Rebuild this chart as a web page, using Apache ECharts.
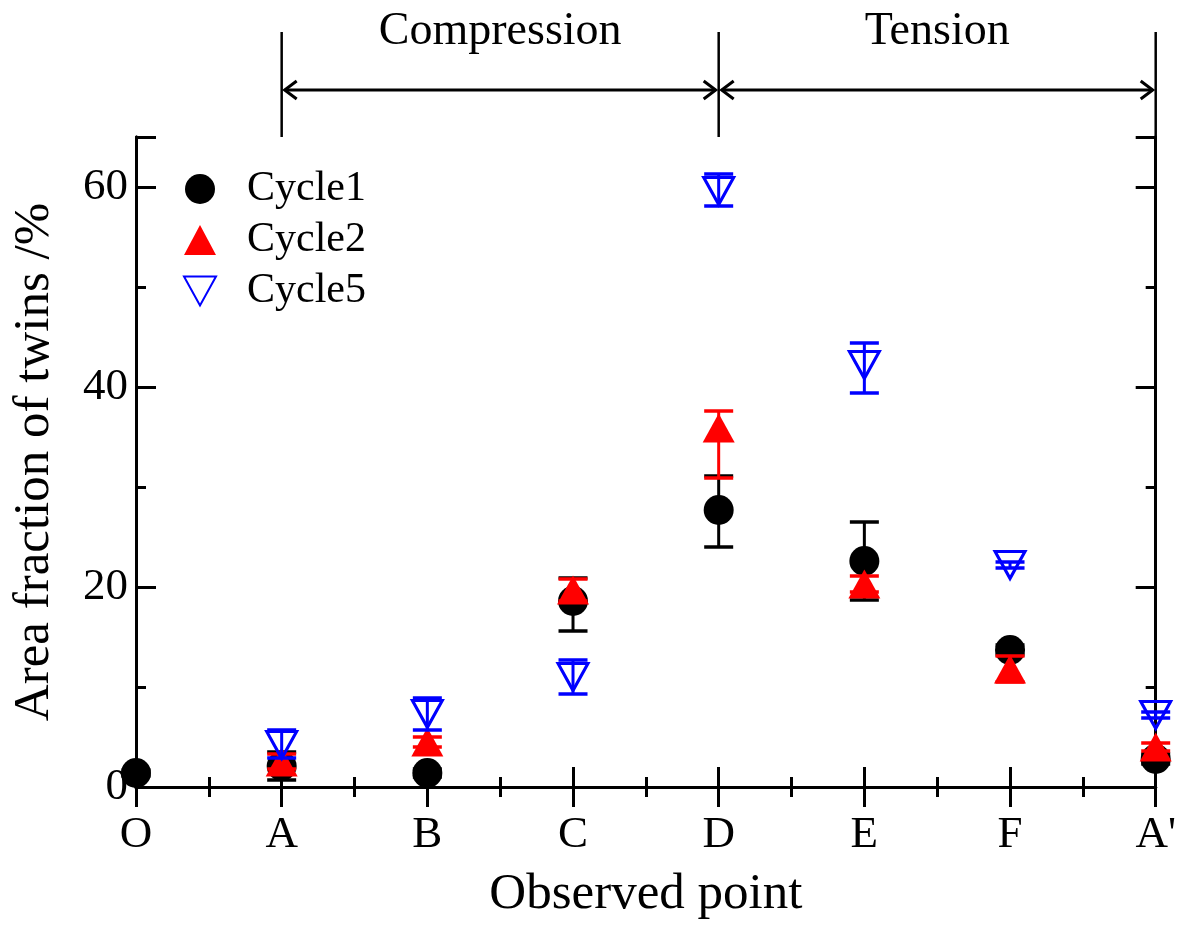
<!DOCTYPE html>
<html>
<head>
<meta charset="utf-8">
<script src="https://cdn.jsdelivr.net/npm/echarts@6/dist/echarts.min.js"></script>
<style>
  html, body { margin: 0; padding: 0; background: #ffffff; }
  #chart { width: 1179px; height: 925px; }
</style>
</head>
<body>
<div id="chart"></div>
<script>
// Observed points along the loading path
const categories = ['O', 'A', 'B', 'C', 'D', 'E', 'F', "A'"];

// Area fraction of twins (%) with error-bar bounds, per cycle
const cycle1Values = [1.4, 2.1, 1.4, 18.6, 27.7, 22.6, 13.7, 2.8];
const cycle1Low    = [1.1, 0.7, 1.0, 15.6, 24.0, 18.7, 13.2, 2.3];
const cycle1High   = [1.7, 3.5, 1.8, 20.9, 31.1, 26.5, 14.2, 3.3];

const cycle2Values = [null, 2.5, 4.5, 19.7, 35.9, 20.3, 11.8, 4.0];
const cycle2Low    = [null, 1.8, 4.0, 18.6, 30.9, 19.5, 10.5, 3.6];
const cycle2High   = [null, 3.3, 5.0, 20.8, 37.6, 21.1, 13.1, 4.4];

const cycle5Values = [null, 4.2, 7.3, 11.0, 59.6, 42.2, 22.2, 7.2];
const cycle5Low    = [null, 2.9, 5.7, 9.3, 58.1, 39.4, 21.9, 6.9];
const cycle5High   = [null, 5.7, 8.9, 12.7, 61.3, 44.4, 22.5, 7.5];

// Y-axis tick labels
const yTickLabels = [0, 20, 40, 60];

// Loading phases marked above the plot
const phases = [
  { label: 'Compression', from: 'A', to: 'D' },
  { label: 'Tension', from: 'D', to: "A'" }
];

const FONT = '"Liberation Serif", "Times New Roman", serif';
const DOWN_TRIANGLE = 'path://M0,0L32,0L16,29Z';
const chart = echarts.init(document.getElementById('chart'), null, { renderer: 'canvas' });

function points(values) {
  const out = [];
  values.forEach((v, i) => { if (v != null) out.push([i, v]); });
  return out;
}
function bounds(low, high) {
  const out = [];
  low.forEach((l, i) => { if (l != null) out.push([i, l, high[i]]); });
  return out;
}

function errorBars(name, low, high, color, z) {
  return {
    type: 'custom',
    name: name,
    z: z,
    silent: true,
    encode: { x: 0, y: [1, 2] },
    data: bounds(low, high),
    renderItem: function (params, api) {
      const x = api.value(0);
      const pLo = api.coord([x, api.value(1)]);
      const pHi = api.coord([x, api.value(2)]);
      const half = 14.5;
      return {
        type: 'group',
        children: [
          { type: 'line', shape: { x1: pLo[0], y1: pLo[1], x2: pHi[0], y2: pHi[1] },
            style: { stroke: color, lineWidth: 3 } },
          { type: 'line', shape: { x1: pHi[0] - half, y1: pHi[1], x2: pHi[0] + half, y2: pHi[1] },
            style: { stroke: color, lineWidth: 3.5 } },
          { type: 'line', shape: { x1: pLo[0] - half, y1: pLo[1], x2: pLo[0] + half, y2: pLo[1] },
            style: { stroke: color, lineWidth: 3.5 } }
        ]
      };
    }
  };
}

const axisLine = { show: true, lineStyle: { color: '#000', width: 3 } };

function xAxisDef(position, withLabels) {
  return {
    type: 'value',
    position: position,
    min: 0,
    max: categories.length - 1,
    interval: 1,
    axisLine: axisLine,
    axisTick: { show: true, inside: true, length: 20, lineStyle: { color: '#000', width: 3 } },
    minorTick: { show: true, splitNumber: 2, length: 10, lineStyle: { color: '#000', width: 3 } },
    splitLine: { show: false },
    axisLabel: withLabels ? {
      show: true, margin: 26, color: '#000', fontFamily: FONT, fontSize: 45,
      formatter: v => categories[Math.round(v)]
    } : { show: false },
    name: withLabels ? 'Observed point' : '',
    nameLocation: 'middle',
    nameGap: 82,
    nameTextStyle: { color: '#000', fontFamily: FONT, fontSize: 51 }
  };
}

function yAxisDef(position, interval, tickLen, withLabels) {
  return {
    type: 'value',
    position: position,
    min: 0,
    max: 65,
    interval: interval,
    axisLine: axisLine,
    axisTick: { show: true, inside: true, length: tickLen, lineStyle: { color: '#000', width: 3 } },
    splitLine: { show: false },
    axisLabel: withLabels ? {
      show: true, margin: 8, color: '#000', fontFamily: FONT, fontSize: 45,
      formatter: v => (yTickLabels.indexOf(v) >= 0 ? String(v) : '')
    } : { show: false },
    name: withLabels ? 'Area fraction of twins /%' : '',
    nameLocation: 'middle',
    nameGap: 76,
    nameTextStyle: { color: '#000', fontFamily: FONT, fontSize: 51 }
  };
}

const option = {
  backgroundColor: '#ffffff',
  animation: false,
  grid: { left: 136, right: 21, top: 137, bottom: 138, containLabel: false },
  xAxis: [xAxisDef('bottom', true), xAxisDef('top', false)],
  yAxis: [
    yAxisDef('left', 20, 20, true),
    yAxisDef('left', 10, 10, false),
    yAxisDef('right', 20, 20, false),
    yAxisDef('right', 10, 10, false)
  ],
  legend: {
    data: ['Cycle1', 'Cycle2', 'Cycle5'],
    orient: 'vertical',
    left: 178,
    top: 163,
    itemWidth: 32,
    itemHeight: 30,
    itemGap: 9,
    selectedMode: false,
    textStyle: { color: '#000', fontFamily: FONT, fontSize: 42, padding: [0, 0, 0, 26] }
  },
  series: [
    errorBars('Cycle1 error', cycle1Low, cycle1High, '#000000', 2),
    {
      type: 'scatter', name: 'Cycle1', z: 3, clip: false,
      symbol: 'circle', symbolSize: 30, symbolKeepAspect: true,
      itemStyle: { color: '#000000', opacity: 1 },
      data: points(cycle1Values)
    },
    errorBars('Cycle2 error', cycle2Low, cycle2High, '#ff0000', 4),
    {
      type: 'scatter', name: 'Cycle2', z: 5, clip: false,
      symbol: 'triangle', symbolSize: [32, 29],
      itemStyle: { color: '#ff0000', opacity: 1 },
      data: points(cycle2Values)
    },
    errorBars('Cycle5 error', cycle5Low, cycle5High, '#0000ff', 6),
    {
      type: 'scatter', name: 'Cycle5', z: 7, clip: false,
      symbol: DOWN_TRIANGLE, symbolSize: [30, 27],
      itemStyle: { color: 'transparent', borderColor: '#0000ff', borderWidth: 3, opacity: 1 },
      data: points(cycle5Values)
    }
  ]
};

chart.setOption(option);

// Phase brackets above the plot: boundary lines, double arrows and titles
const yTop = chart.convertToPixel({ yAxisIndex: 0 }, 65);
const arrowY = 90;
const lineTop = 32;
const graphics = [];
const boundaryDone = {};
function boundary(x) {
  const key = Math.round(x);
  if (boundaryDone[key]) return;
  boundaryDone[key] = true;
  graphics.push({ type: 'line', shape: { x1: x, y1: lineTop, x2: x, y2: yTop },
    style: { stroke: '#000', lineWidth: 2.5 }, z: 10 });
}
function chevron(tipX, dir) {
  graphics.push({ type: 'polyline',
    shape: { points: [[tipX + dir * 12, arrowY - 9], [tipX, arrowY], [tipX + dir * 12, arrowY + 9]] },
    style: { stroke: '#000', lineWidth: 3, fill: null }, z: 10 });
}
phases.forEach(p => {
  const x0 = chart.convertToPixel({ xAxisIndex: 0 }, categories.indexOf(p.from));
  const x1 = chart.convertToPixel({ xAxisIndex: 0 }, categories.indexOf(p.to));
  boundary(x0);
  boundary(x1);
  const a = x0 + 3, b = x1 - 3;
  graphics.push({ type: 'line', shape: { x1: a, y1: arrowY, x2: b, y2: arrowY },
    style: { stroke: '#000', lineWidth: 3 }, z: 10 });
  chevron(a, 1);
  chevron(b, -1);
  graphics.push({ type: 'text', x: (x0 + x1) / 2, y: 32, z: 10,
    style: { text: p.label, fill: '#000', font: '46px ' + FONT, align: 'center', verticalAlign: 'middle' } });
});
chart.setOption({ graphic: graphics });
</script>
</body>
</html>
